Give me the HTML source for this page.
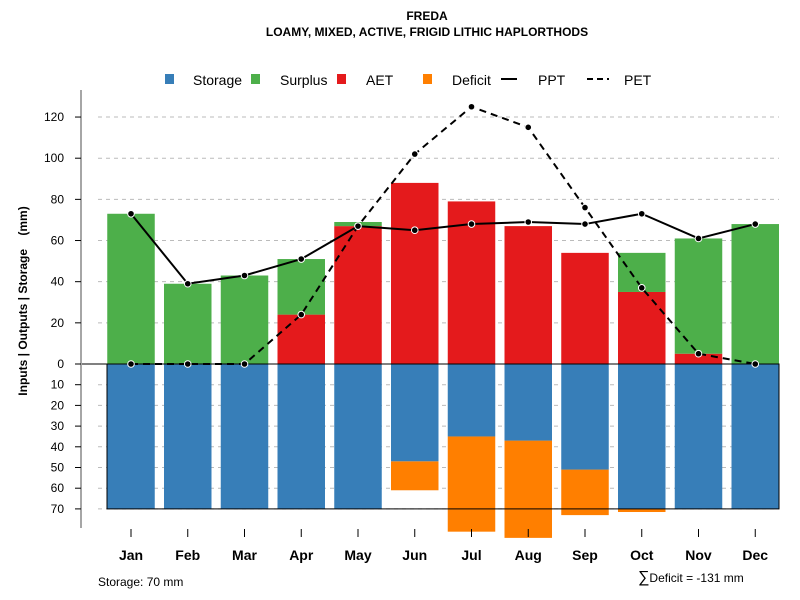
<!DOCTYPE html>
<html><head><meta charset="utf-8">
<style>
body{margin:0;background:#fff;}
svg{display:block;font-family:"Liberation Sans",Arial,sans-serif;}
</style></head>
<body>
<svg id="chart" width="800" height="600">
<text x="427" y="20" text-anchor="middle" font-size="12" font-weight="bold">FREDA</text>
<text x="427" y="36" text-anchor="middle" font-size="12" font-weight="bold">LOAMY, MIXED, ACTIVE, FRIGID LITHIC HAPLORTHODS</text>
<text transform="translate(27,301) rotate(-90)" text-anchor="middle" font-size="12" font-weight="bold">Inputs | Outputs | Storage&#160;&#160;&#160;&#160;(mm)</text>
<text x="98" y="586" font-size="12">Storage: 70 mm</text>
<text x="638" y="582" font-size="12"><tspan font-size="16">∑</tspan>Deficit = -131 mm</text>
<g id="legend">
<rect x="165" y="74" width="9" height="10" fill="#377eb8"/>
<text x="193" y="85" font-size="14">Storage</text>
<rect x="251" y="74" width="9" height="10" fill="#4daf4a"/>
<text x="280" y="85" font-size="14">Surplus</text>
<rect x="337" y="74" width="9" height="10" fill="#e41a1c"/>
<text x="366" y="85" font-size="14">AET</text>
<rect x="423" y="74" width="9" height="10" fill="#ff7f00"/>
<text x="452" y="85" font-size="14">Deficit</text>
<line x1="501" y1="79" x2="517" y2="79" stroke="#000" stroke-width="2"/>
<text x="538" y="85" font-size="14">PPT</text>
<line x1="587" y1="79" x2="609" y2="79" stroke="#000" stroke-width="2" stroke-dasharray="6,4"/>
<text x="624" y="85" font-size="14">PET</text>
</g>
</svg>
<script>
const months=['Jan','Feb','Mar','Apr','May','Jun','Jul','Aug','Sep','Oct','Nov','Dec'];
const storage=[70,70,70,70,70,47,35,37,51,70,70,70];
const deficit=[0,0,0,0,0,14,46,47,22,1.5,0,0];
const aet=[0,0,0,24,67,88,79,67,54,35,5,0];
const surplus=[73,39,43,27,2,0,0,0,0,19,56,68];
const ppt=[73,39,43,51,67,65,68,69,68,73,61,68];
const pet=[0,0,0,24,67,102,125,115,76,37,5,0];
const upTicks=[0,20,40,60,80,100,120];
const downTicks=[10,20,30,40,50,60,70];

const svg=document.getElementById('chart');
const NS='http://www.w3.org/2000/svg';
const y0=364, kU=2.058, kD=2.07;
const yUp=v=>y0-v*kU;
const yDn=v=>y0+v*kD;
const xC=i=>131+i*56.75;
const bw=47.5;
function mk(t,a,p){const e=document.createElementNS(NS,t);for(const k in a)e.setAttribute(k,a[k]);(p||svg).appendChild(e);return e;}

const grid=mk('g',{});


upTicks.concat(downTicks.map(v=>-v)).forEach(v=>{
  const y=v>=0?yUp(v):yDn(-v);
  const l=mk('line',{x1:98,x2:779,y1:y,y2:y,stroke:'#bbb','stroke-dasharray':'4,4'},grid);
  
  
});

const bars=mk('g',{});


months.forEach((m,i)=>{
  const x=xC(i)-bw/2;
  if(deficit[i]>0){const r=mk('rect',{x:x,y:yDn(storage[i]),width:bw,height:deficit[i]*kD,fill:'#ff7f00'},bars);
    }
  const s=mk('rect',{x:x,y:y0,width:bw,height:storage[i]*kD,fill:'#377eb8'},bars);
  
  
  if(aet[i]>0){const r=mk('rect',{x:x,y:yUp(aet[i]),width:bw,height:aet[i]*kU,fill:'#e41a1c'},bars);
    }
  if(surplus[i]>0){const r=mk('rect',{x:x,y:yUp(aet[i]+surplus[i]),width:bw,height:surplus[i]*kU,fill:'#4daf4a'},bars);
    }
});
const box=mk('rect',{x:107,y:y0,width:672,height:70*kD,fill:'none',stroke:'#000','stroke-width':1});


const zl=mk('line',{x1:82,x2:779,y1:y0,y2:y0,stroke:'#000'});



function series(vals,name,dash){
  const g=mk('g',{});
  
  
  const p=mk('polyline',{points:vals.map((v,i)=>xC(i)+','+yUp(v)).join(' '),fill:'none',stroke:'#000','stroke-width':2,'stroke-dasharray':dash},g);
  
  
  vals.forEach((v,i)=>{const c=mk('circle',{cx:xC(i),cy:yUp(v),r:3.3,fill:'#000',stroke:'#fff','stroke-width':1},g);
    });
}
series(pet,'pet','7,5');
series(ppt,'ppt','none');

const ax=mk('g',{});


mk('line',{x1:81,x2:81,y1:90,y2:528,stroke:'#888','stroke-width':1.5},ax);
upTicks.forEach(v=>{const y=yUp(v);mk('line',{x1:75,x2:81,y1:y,y2:y,stroke:'#000'},ax);
  const t=mk('text',{x:64,y:y+4,'text-anchor':'end','font-size':12},ax);t.textContent=v;
  });
downTicks.forEach(v=>{const y=yDn(v);mk('line',{x1:75,x2:81,y1:y,y2:y,stroke:'#000'},ax);
  const t=mk('text',{x:64,y:y+4,'text-anchor':'end','font-size':12},ax);t.textContent=v;
  });
const xa=mk('g',{});


months.forEach((m,i)=>{mk('line',{x1:xC(i),x2:xC(i),y1:529,y2:537,stroke:'#000'},xa);
  const t=mk('text',{x:xC(i),y:560,'text-anchor':'middle','font-size':14,'font-weight':'bold'},xa);t.textContent=m;
  });
</script>
</body></html>
